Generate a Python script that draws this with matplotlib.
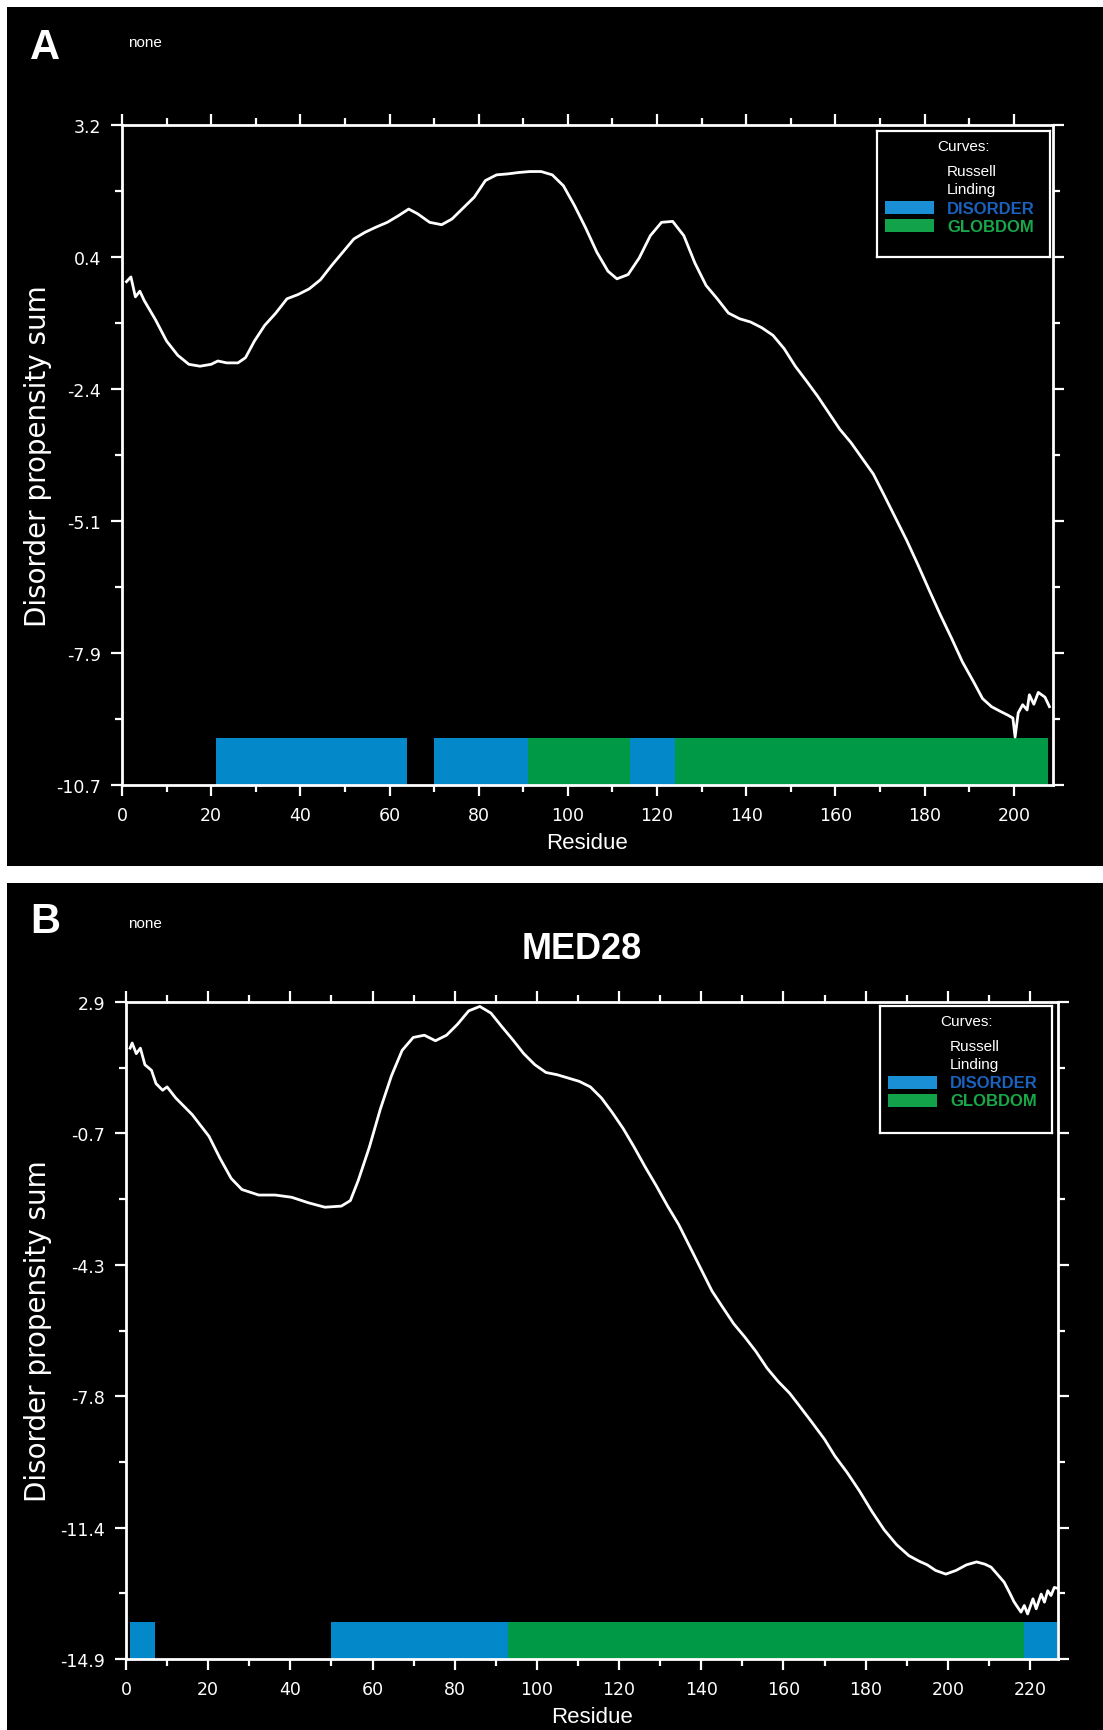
#!/usr/bin/env python3
# GlobPlot-style disorder propensity plots, two stacked panels (A and B / MED28)

import numpy as np
import matplotlib
matplotlib.use("Agg")
import matplotlib.pyplot as plt
from matplotlib.patches import Rectangle
from matplotlib.ticker import FixedLocator, MultipleLocator

W, H, DPI = 1103, 1731, 100

FG = "white"
C_DIS_BAR  = "#0389c9"
C_GLOB_BAR = "#009a47"
C_DIS_LEG  = "#1a8fd6"
C_GLOB_LEG = "#12a24a"
C_DIS_TXT  = "#1a62bd"
C_GLOB_TXT = "#18a84a"

FONT = ["Liberation Sans", "DejaVu Sans"]
WIDE = ["DejaVu Sans"]   # the original tick/axis text is set quite wide

# ---- panel A ----
A_RES = [1, 2, 3, 4, 5, 7.5, 10, 12.5, 15, 17.5,
         20, 21.5, 23.5, 26, 27.7, 29.7, 32, 34.5, 37, 39.5,
         42, 44.5, 47, 49.5, 52, 54.5, 57, 59.5, 62, 64.3,
         66.3, 69, 71.7, 74, 76.5, 79, 81.5, 84, 86.5, 89,
         91.5, 94, 96.5, 99, 101.5, 104, 106.5, 109, 111, 113.5,
         116, 118.5, 121, 123.5, 126, 128.5, 131, 133.5, 136, 138.5,
         141, 143.5, 146, 148.5, 151, 153.5, 156, 158.5, 161, 163.5,
         166, 168.5, 171, 173.5, 176, 178.5, 181, 183.5, 186, 188.5,
         191, 193, 195, 197, 198.7, 199.8, 200.3, 201, 202, 203,
         203.5, 204.5, 205.5, 207, 208]
A_SUM = [-0.10, 0.0, -0.42, -0.30, -0.50, -0.90, -1.35, -1.65, -1.84, -1.88,
         -1.84, -1.77, -1.81, -1.81, -1.70, -1.35, -1.02, -0.76, -0.46, -0.37,
         -0.25, -0.06, 0.24, 0.52, 0.80, 0.94, 1.05, 1.15, 1.29, 1.43,
         1.33, 1.15, 1.10, 1.22, 1.45, 1.68, 2.03, 2.15, 2.17, 2.20,
         2.22, 2.22, 2.15, 1.92, 1.50, 1.03, 0.52, 0.12, -0.04, 0.05,
         0.40, 0.87, 1.15, 1.17, 0.87, 0.29, -0.18, -0.46, -0.76, -0.88,
         -0.95, -1.07, -1.23, -1.51, -1.88, -2.19, -2.51, -2.86, -3.21, -3.49,
         -3.82, -4.15, -4.61, -5.08, -5.55, -6.06, -6.59, -7.11, -7.60, -8.11,
         -8.53, -8.88, -9.05, -9.15, -9.23, -9.29, -9.69, -9.18, -9.01, -9.12,
         -8.80, -9.00, -8.75, -8.85, -9.05]
A_DISORDER = [(21, 64), (70, 91), (114, 124)]
A_GLOBDOM  = [(91, 114), (124, 207.7)]
A_YLIM = (-10.7, 3.2)
A_YTICKLABELS = ["-10.7", "-7.9", "-5.1", "-2.4", "0.4", "3.2"]
A_XMAX = 208.8

# ---- panel B (MED28) ----
B_RES = [1, 1.5, 2.5, 3.5, 4.6, 6.2, 7.3, 8.9, 10, 12.1,
         16.1, 20.2, 22.9, 25.6, 28.2, 32.3, 36.3, 40.3, 44.4, 48.4,
         52.4, 54.6, 56.5, 59.2, 61.9, 64.6, 67.2, 69.9, 72.6, 75.3,
         78, 80.7, 83.4, 86.1, 88.8, 91.4, 94.1, 96.8, 99.5, 102.2,
         104.9, 107.6, 110.3, 113, 115.7, 118.3, 121, 123.7, 126.4, 129.1,
         131.8, 134.5, 137.2, 139.9, 142.6, 145.2, 147.9, 150.6, 153.3, 156,
         158.7, 161.5, 164, 167, 170, 172.5, 175.5, 178.5, 181.5, 184.5,
         187.5, 190.5, 193, 195, 197, 199.5, 202, 204.5, 207, 209,
         210.5, 212, 213.7, 215, 216.1, 217, 217.8, 218.6, 219.4, 220.7,
         221.5, 222.7, 223.5, 224.3, 225.1, 225.9, 226.5]
B_SUM = [1.65, 1.79, 1.50, 1.65, 1.20, 1.05, 0.69, 0.51, 0.60, 0.30,
         -0.15, -0.74, -1.34, -1.88, -2.18, -2.33, -2.33, -2.39, -2.54, -2.66,
         -2.63, -2.48, -1.94, -1.04, 0.00, 0.90, 1.59, 1.94, 2.00, 1.85,
         2.00, 2.30, 2.66, 2.78, 2.60, 2.24, 1.88, 1.50, 1.20, 0.99,
         0.93, 0.84, 0.75, 0.60, 0.30, -0.09, -0.53, -1.04, -1.58, -2.09,
         -2.63, -3.13, -3.73, -4.33, -4.93, -5.37, -5.82, -6.18, -6.57, -7.02,
         -7.38, -7.70, -8.06, -8.50, -8.95, -9.40, -9.85, -10.35, -10.90, -11.40,
         -11.80, -12.10, -12.25, -12.35, -12.50, -12.60, -12.50, -12.35, -12.27, -12.33,
         -12.41, -12.60, -12.82, -13.10, -13.35, -13.50, -13.63, -13.45, -13.68, -13.27,
         -13.54, -13.14, -13.36, -13.05, -13.18, -12.96, -12.98]
B_DISORDER = [(1, 7), (50, 93), (218.5, 226.5)]
B_GLOBDOM  = [(93, 218.5)]
B_YLIM = (-14.9, 2.9)
B_YTICKLABELS = ["-14.9", "-11.4", "-7.8", "-4.3", "-0.7", "2.9"]
B_XMAX = 226.8
B_TITLE = "MED28"

LEGEND_LINES = ["Russell", "Linding"]


def px_rect(l, t, r, b):
    """pixel box (top-left origin) -> figure fraction [x, y, w, h]"""
    return [l / W, 1 - b / H, (r - l) / W, (b - t) / H]


def style_axes(ax, ylim, ylabels, xmax):
    ax.set_facecolor("black")
    for side in ("top", "right", "left", "bottom"):
        ax.spines[side].set_color(FG)
        ax.spines[side].set_linewidth(2.0)
    ax.set_xlim(0, xmax)
    ax.set_ylim(*ylim)
    ax.xaxis.set_major_locator(MultipleLocator(20))
    ax.xaxis.set_minor_locator(MultipleLocator(10))
    major = np.linspace(ylim[0], ylim[1], len(ylabels))
    minor = np.linspace(ylim[0], ylim[1], 2 * len(ylabels) - 1)
    ax.yaxis.set_major_locator(FixedLocator(major))
    ax.yaxis.set_minor_locator(FixedLocator(minor))
    ax.set_yticklabels(ylabels)
    ax.tick_params(which="both", direction="out", colors=FG,
                   top=True, right=True, labeltop=False, labelright=False,
                   width=1.6, labelsize=12.5)
    ax.tick_params(which="major", length=8, pad=7)
    ax.tick_params(which="minor", length=5)
    for lab in ax.get_xticklabels() + ax.get_yticklabels():
        lab.set_family(WIDE)
    ax.set_xlabel("Residue", color=FG, fontsize=16, family=FONT, labelpad=6)
    ax.set_ylabel("Disorder propensity sum", color=FG, fontsize=20, family=WIDE)


def draw_bars(ax, ranges, color, ylim):
    h = 1.0
    ax.broken_barh([(a, b - a) for a, b in ranges], (ylim[0], h),
                   facecolors=color, edgecolor="none", zorder=1)


def draw_legend(fig, box):
    lax = fig.add_axes(px_rect(*box))
    lax.set_zorder(2)
    w = box[2] - box[0]
    h = box[3] - box[1]
    lax.set_xlim(0, w)
    lax.set_ylim(h, 0)
    lax.set_facecolor("black")
    lax.set_xticks([])
    lax.set_yticks([])
    for s in lax.spines.values():
        s.set_color(FG)
        s.set_linewidth(1.6)
    kw = dict(family=FONT, fontsize=11, va="center")
    lax.text(w / 2, 15, "Curves:", color=FG, ha="center", **kw)
    lax.text(70, 40, LEGEND_LINES[0], color=FG, ha="left", **kw)
    lax.text(70, 58, LEGEND_LINES[1], color=FG, ha="left", **kw)
    lax.add_patch(Rectangle((8, 70), 49, 13, facecolor=C_DIS_LEG, edgecolor="none"))
    lax.add_patch(Rectangle((8, 88), 49, 13, facecolor=C_GLOB_LEG, edgecolor="none"))
    kw_c = dict(family=FONT, fontsize=12, fontweight="bold", va="center", ha="left")
    lax.text(70, 77, "DISORDER", color=C_DIS_TXT, **kw_c)
    lax.text(70, 95, "GLOBDOM", color=C_GLOB_TXT, **kw_c)
    return lax


def main():
    fig = plt.figure(figsize=(W / DPI, H / DPI), dpi=DPI, facecolor="white")

    # black panel backgrounds, kept behind the axes
    for (l, t, r, b) in [(7, 8, W, 867), (7, 884, W, H)]:
        x, y, w, h = px_rect(l, t, r, b)
        fig.patches.append(Rectangle((x, y), w, h, transform=fig.transFigure,
                                     facecolor="black", edgecolor="none", zorder=-5))

    panels = [
        dict(box=(122, 126, 1053, 786), res=A_RES, vals=A_SUM, ylim=A_YLIM,
             ylabels=A_YTICKLABELS, xmax=A_XMAX, dis=A_DISORDER, glob=A_GLOBDOM,
             legend=(877, 132, 1050, 258), letter="A", letter_y=48, none_y=43,
             title=None),
        dict(box=(126, 1003, 1058, 1660), res=B_RES, vals=B_SUM, ylim=B_YLIM,
             ylabels=B_YTICKLABELS, xmax=B_XMAX, dis=B_DISORDER, glob=B_GLOBDOM,
             legend=(880, 1007, 1052, 1134), letter="B", letter_y=922, none_y=924,
             title=B_TITLE),
    ]

    for p in panels:
        ax = fig.add_axes(px_rect(*p["box"]))
        ax.set_zorder(1)
        style_axes(ax, p["ylim"], p["ylabels"], p["xmax"])
        # right edge of rotated y label sits ~52 px from the figure edge
        ax.yaxis.set_label_coords((52 - p["box"][0]) / (p["box"][2] - p["box"][0]), 0.5)
        draw_bars(ax, p["dis"], C_DIS_BAR, p["ylim"])
        draw_bars(ax, p["glob"], C_GLOB_BAR, p["ylim"])
        ax.plot(p["res"], p["vals"], color=FG, linewidth=2.0, zorder=3,
                solid_joinstyle="round")
        draw_legend(fig, p["legend"])

        fig.text(30 / W, 1 - p["letter_y"] / H, p["letter"], color=FG,
                 fontsize=30, fontweight="bold", family=FONT, va="center", ha="left")
        fig.text(128 / W, 1 - p["none_y"] / H, "none", color=FG,
                 fontsize=11, family=FONT, va="center", ha="left")
        if p["title"]:
            fig.text(582 / W, 1 - 950 / H, p["title"], color=FG, fontsize=26,
                     fontweight="bold", family=FONT, va="center", ha="center")

    fig.savefig("out.png", dpi=DPI, facecolor="white")
    plt.close(fig)


if __name__ == "__main__":
    main()
